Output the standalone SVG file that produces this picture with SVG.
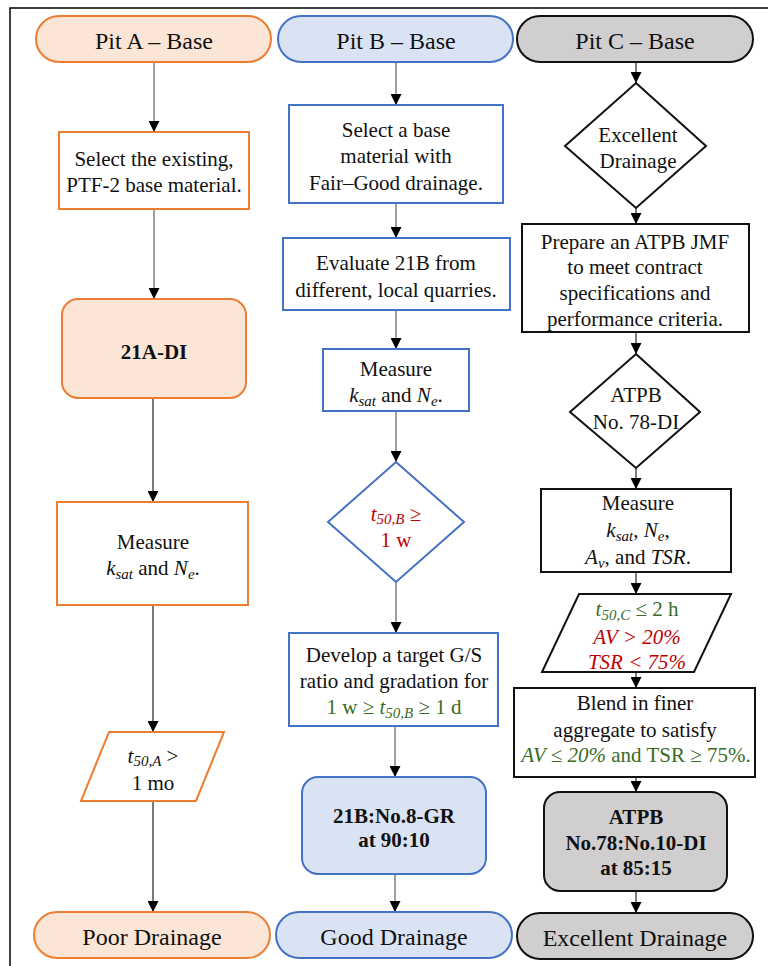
<svg xmlns="http://www.w3.org/2000/svg" width="768" height="966" viewBox="0 0 768 966">
<defs>
<marker id="ah" markerUnits="userSpaceOnUse" markerWidth="11" markerHeight="11" refX="11" refY="5.5" orient="auto">
<path d="M0,0 L11,5.5 L0,11 z" fill="#000"/>
</marker>
<style>
text{font-family:"Liberation Serif","Times New Roman",serif;font-size:21px;fill:#111;text-anchor:middle}
.term{font-size:24px}
.b{font-weight:bold}
.i{font-style:italic}
.sub{font-size:15px;font-style:italic}
.red{fill:#C00000}
.grn{fill:#3B6B26}
.oA{fill:#FBE5D6;stroke:#ED7D31;stroke-width:2}
.oW{fill:#fff;stroke:#ED7D31;stroke-width:2}
.bB{fill:#DAE3F3;stroke:#4472C4;stroke-width:2}
.bW{fill:#fff;stroke:#4472C4;stroke-width:2}
.gC{fill:#D0CECE;stroke:#111;stroke-width:2}
.kW{fill:#fff;stroke:#111;stroke-width:2}
.cn{stroke:#808080;stroke-width:1.5;fill:none;marker-end:url(#ah)}
.cd{stroke:#333;stroke-width:1.3;fill:none;marker-end:url(#ah)}
</style>
</defs>
<rect width="768" height="966" fill="#fff"/>
<path d="M10,966 V8 H768" fill="none" stroke="#000" stroke-width="1.5"/>

<g id="connectors">
<line class="cn" x1="154" y1="62" x2="154" y2="132"/>
<line class="cn" x1="154" y1="209" x2="154" y2="299"/>
<line class="cd" x1="153" y1="398" x2="153" y2="502"/>
<line class="cd" x1="153" y1="605" x2="153" y2="732"/>
<line class="cd" x1="153" y1="801" x2="153" y2="912"/>
<line class="cn" x1="396" y1="62" x2="396" y2="105"/>
<line class="cn" x1="396" y1="203" x2="396" y2="238"/>
<line class="cn" x1="396" y1="310" x2="396" y2="349"/>
<line class="cn" x1="396" y1="411" x2="396" y2="462"/>
<line class="cn" x1="396" y1="582" x2="396" y2="633"/>
<line class="cn" x1="395" y1="726" x2="395" y2="777"/>
<line class="cn" x1="395" y1="874" x2="395" y2="912"/>
<line class="cd" x1="636" y1="62" x2="636" y2="83"/>
<line class="cd" x1="636" y1="208" x2="636" y2="224"/>
<line class="cd" x1="636" y1="332" x2="636" y2="354"/>
<line class="cd" x1="636" y1="468" x2="636" y2="489"/>
<line class="cd" x1="636" y1="572" x2="636" y2="594"/>
<line class="cd" x1="636" y1="672" x2="636" y2="688"/>
<line class="cd" x1="636" y1="777" x2="636" y2="792"/>
<line class="cd" x1="636" y1="891" x2="636" y2="913"/>
</g>

<!-- Column A -->
<g id="pitA">
<rect class="oA" x="36" y="16" width="235" height="46" rx="23"/>
<text class="term" x="154" y="49">Pit A – Base</text>
</g>
<g id="a_select">
<rect class="oW" x="59" y="132" width="190" height="77"/>
<text x="154" y="166">Select the existing,</text>
<text x="154" y="192">PTF-2 base material.</text>
</g>
<g id="a_21A">
<rect class="oA" x="62" y="299" width="184" height="99" rx="16"/>
<text class="b" x="154" y="359">21A-DI</text>
</g>
<g id="a_measure">
<rect class="oW" x="57" y="502" width="191" height="103"/>
<text x="153" y="549">Measure</text>
<text x="153" y="575"><tspan class="i">k</tspan><tspan class="sub" dy="4">sat</tspan><tspan dy="-4"> and </tspan><tspan class="i">N</tspan><tspan class="sub" dy="4">e</tspan><tspan dy="-4">.</tspan></text>
</g>
<g id="a_t50">
<polygon class="oW" points="109,732 224,732 196,801 81,801"/>
<text x="153" y="763"><tspan class="i">t</tspan><tspan class="sub" dy="3">50,A</tspan><tspan dy="-3"> &gt;</tspan></text>
<text x="153" y="790">1 mo</text>
</g>
<g id="poor">
<rect class="oA" x="34" y="912" width="236" height="46" rx="23"/>
<text class="term" x="152" y="945">Poor Drainage</text>
</g>

<!-- Column B -->
<g id="pitB">
<rect class="bB" x="278" y="16" width="235" height="46" rx="23"/>
<text class="term" x="396" y="49">Pit B – Base</text>
</g>
<g id="b_select">
<rect class="bW" x="289" y="105" width="214" height="98"/>
<text x="396" y="137">Select a base</text>
<text x="396" y="163">material with</text>
<text x="396" y="190">Fair–Good drainage.</text>
</g>
<g id="b_evaluate">
<rect class="bW" x="283" y="238" width="227" height="72"/>
<text x="396" y="270">Evaluate 21B from</text>
<text x="396" y="297">different, local quarries.</text>
</g>
<g id="b_measure">
<rect class="bW" x="323" y="349" width="146" height="62"/>
<text x="396" y="376">Measure</text>
<text x="396" y="402"><tspan class="i">k</tspan><tspan class="sub" dy="4">sat</tspan><tspan dy="-4"> and </tspan><tspan class="i">N</tspan><tspan class="sub" dy="4">e</tspan><tspan dy="-4">.</tspan></text>
</g>
<g id="b_t50">
<polygon class="bW" points="396,462 464,522 396,582 328,522"/>
<text class="red" x="396" y="521"><tspan class="i red">t</tspan><tspan class="sub red" dy="3">50,B</tspan><tspan dy="-3"> ≥</tspan></text>
<text class="red" x="396" y="547">1 w</text>
</g>
<g id="b_develop">
<rect class="bW" x="289" y="633" width="209" height="93"/>
<text x="394" y="662">Develop a target G/S</text>
<text x="394" y="688">ratio and gradation for</text>
<text class="grn" x="394" y="714">1 w ≥ <tspan class="i grn">t</tspan><tspan class="sub grn" dy="4">50,B</tspan><tspan dy="-4"> ≥ 1 d</tspan></text>
</g>
<g id="b_21B">
<rect class="bB" x="302" y="777" width="184" height="97" rx="16"/>
<text class="b" x="394" y="823">21B:No.8-GR</text>
<text class="b" x="394" y="847">at 90:10</text>
</g>
<g id="good">
<rect class="bB" x="276" y="912" width="236" height="46" rx="23"/>
<text class="term" x="394" y="945">Good Drainage</text>
</g>

<!-- Column C -->
<g id="pitC">
<rect class="gC" x="517" y="16" width="236" height="46" rx="23"/>
<text class="term" x="635" y="49">Pit C – Base</text>
</g>
<g id="c_excellent">
<polygon class="kW" points="636,83 706,146 636,208 565,146"/>
<text x="638" y="142">Excellent</text>
<text x="638" y="168">Drainage</text>
</g>
<g id="c_prepare">
<rect class="kW" x="522" y="224" width="227" height="108"/>
<text x="635" y="249">Prepare an ATPB JMF</text>
<text x="635" y="274">to meet contract</text>
<text x="635" y="300">specifications and</text>
<text x="635" y="326">performance criteria.</text>
</g>
<g id="c_atpb">
<polygon class="kW" points="636,354 700,412 636,468 570,412"/>
<text x="636" y="402">ATPB</text>
<text x="636" y="429">No. 78-DI</text>
</g>
<g id="c_measure">
<rect class="kW" x="541" y="489" width="190" height="83"/>
<text x="638" y="510">Measure</text>
<text x="638" y="537"><tspan class="i">k</tspan><tspan class="sub" dy="4">sat</tspan><tspan dy="-4">, </tspan><tspan class="i">N</tspan><tspan class="sub" dy="4">e</tspan><tspan dy="-4">,</tspan></text>
<text x="638" y="564"><tspan class="i">A</tspan><tspan class="sub" dy="4">v</tspan><tspan dy="-4">, and </tspan><tspan class="i">TSR</tspan>.</text>
</g>
<g id="c_t50">
<polygon class="kW" points="579,594 731,594 694,672 542,672"/>
<text class="grn" x="637" y="616"><tspan class="i grn">t</tspan><tspan class="sub grn" dy="4">50,C</tspan><tspan dy="-4"> ≤ 2 h</tspan></text>
<text class="red i" x="637" y="644">AV &gt; 20%</text>
<text class="red i" x="637" y="669">TSR &lt; 75%</text>
</g>
<g id="c_blend">
<rect class="kW" x="514" y="688" width="241" height="89"/>
<text x="635" y="710">Blend in finer</text>
<text x="635" y="737">aggregate to satisfy</text>
<text class="grn" x="636" y="762"><tspan class="i grn">AV ≤ 20%</tspan> and TSR ≥ 75%.</text>
</g>
<g id="c_atpb_mix">
<rect class="gC" x="544" y="792" width="183" height="99" rx="16"/>
<text class="b" x="636" y="824">ATPB</text>
<text class="b" x="636" y="850">No.78:No.10-DI</text>
<text class="b" x="636" y="875">at 85:15</text>
</g>
<g id="excellent">
<rect class="gC" x="517" y="913" width="236" height="46" rx="23"/>
<text class="term" x="635" y="946">Excellent Drainage</text>
</g>
</svg>
